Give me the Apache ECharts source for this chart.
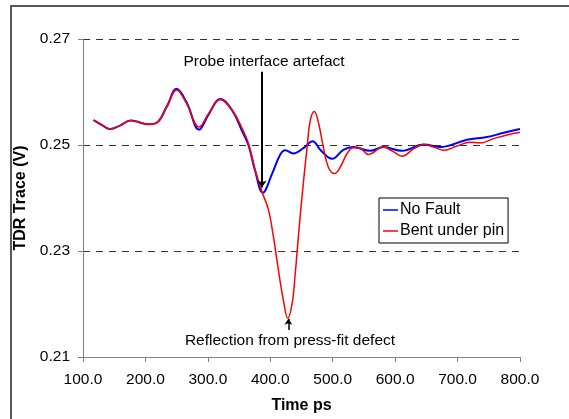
<!DOCTYPE html>
<html>
<head>
<meta charset="utf-8">
<script src="https://cdn.jsdelivr.net/npm/echarts@6/dist/echarts.min.js"></script>
<style>html,body{margin:0;padding:0;background:#fff}#c{width:569px;height:419px}</style>
</head>
<body>
<div id="c"></div>
<script>
// ---- data (time in ps, TDR trace in V) ----
var noFaultTime = [117,130,143,160,176,190,203,218,234,250,266,286,301,320,339,355,365,376,388,403,416,424,437,453,468,480,499,517,533,560,581,611,646,672,715,747,774,800];
var noFaultV    = [0.2547,0.2538,0.2530,0.2537,0.2546,0.2543,0.2539,0.2542,0.2572,0.2606,0.2580,0.2529,0.2557,0.2587,0.2565,0.2526,0.2500,0.2450,0.2410,0.2446,0.2482,0.2490,0.2484,0.2494,0.2507,0.2491,0.2474,0.2491,0.2496,0.2489,0.2496,0.2489,0.2501,0.2496,0.2510,0.2515,0.2523,0.2530];
var bentTime = [117,130,143,160,176,190,203,218,234,250,266,286,301,320,339,355,365,376,387,397,405,413,421,428,435,440,445,451,459,464,470.5,477,485,493,503,512,523,533,544,557,581,595,611,630,646,662,678,699,720,736,758,779,800];
var bentV    = [0.2547,0.2538,0.2530,0.2537,0.2546,0.2543,0.2539,0.2542,0.2571,0.2604,0.2578,0.2534,0.2559,0.2586,0.2566,0.2531,0.2503,0.2452,0.2411,0.2378,0.2327,0.2264,0.2207,0.2173,0.2201,0.2258,0.2327,0.2405,0.2496,0.2546,0.2563,0.2543,0.2496,0.2458,0.2446,0.2458,0.2484,0.2495,0.2494,0.2482,0.2496,0.2489,0.2479,0.2493,0.2501,0.2496,0.2490,0.2498,0.2505,0.2504,0.2512,0.2519,0.2524];
var seriesNames = ['No Fault', 'Bent under pin'];
var yTicks = [0.21, 0.23, 0.25, 0.27];
var xMin = 100, xMax = 800, xStep = 100;
// annotation arrows [time, from V, to V]
var probeArrow = [386.7, 0.2638, 0.2420];
var defectArrow = [429, 0.2151, 0.2172];
var probeText = 'Probe interface artefact';
var defectText = 'Reflection from press-fit defect';

function pairs(t, v) { return t.map(function (x, i) { return [x, v[i]]; }); }

var FONT = '"Liberation Sans", Arial, sans-serif';
var FS = 15.5;
var chart = echarts.init(document.getElementById('c'), null, {renderer: 'canvas'});
chart.setOption({
  animation: false,
  backgroundColor: '#fff',
  textStyle: {fontFamily: FONT},
  grid: {left: 83, right: 49, top: 39, bottom: 62, containLabel: false},
  legend: {
    data: seriesNames,
    orient: 'vertical',
    left: 379, top: 198,
    padding: [4, 4, 4, 4],
    itemGap: 5,
    itemWidth: 15, itemHeight: 1.5,
    icon: 'rect',
    backgroundColor: '#fff',
    borderColor: '#000', borderWidth: 1, borderRadius: 0,
    textStyle: {fontSize: 16, color: '#000', fontFamily: FONT, padding: [0, 0, 0, -3]}
  },
  xAxis: {
    type: 'value', min: xMin, max: xMax, interval: xStep,
    name: 'Time ps', nameLocation: 'middle', nameGap: 41,
    nameTextStyle: {fontSize: 16, fontWeight: 'bold', color: '#000', fontFamily: FONT},
    axisLine: {lineStyle: {color: '#808080', width: 1}},
    axisTick: {show: true, inside: false, length: 5, lineStyle: {color: '#808080'}},
    axisLabel: {fontSize: FS, color: '#000', margin: 15, fontFamily: FONT,
      formatter: function (v) { return v.toFixed(1); }},
    splitLine: {show: false}
  },
  yAxis: {
    type: 'value', min: yTicks[0], max: yTicks[yTicks.length - 1],
    name: 'TDR Trace (V)', nameLocation: 'middle', nameGap: 53,
    nameTextStyle: {fontSize: 16, fontWeight: 'bold', color: '#000', fontFamily: FONT},
    axisLine: {show: true, lineStyle: {color: '#808080', width: 1}},
    axisTick: {show: true, inside: false, length: 5, lineStyle: {color: '#808080'}, customValues: yTicks},
    axisLabel: {fontSize: FS, color: '#000', margin: 13, fontFamily: FONT, customValues: yTicks,
      formatter: function (v) { return v.toFixed(2); }},
    splitLine: {show: true, lineStyle: {color: '#333', width: 1, type: [7, 6]}}
  },
  series: [
    {
      name: seriesNames[0], type: 'line', data: pairs(noFaultTime, noFaultV),
      smooth: 0.4, symbol: 'none', color: '#0000ff',
      lineStyle: {color: '#0000ff', width: 2},
      markLine: {
        silent: true, animation: false,
        symbol: ['none', 'arrow'], symbolSize: 7,
        label: {show: false},
        lineStyle: {color: '#000', width: 2, type: 'solid'},
        data: [
          [{coord: [probeArrow[0], probeArrow[1]]}, {coord: [probeArrow[0], probeArrow[2]]}]
        ]
      }
    },
    {
      name: seriesNames[1], type: 'line', data: pairs(bentTime, bentV),
      smooth: 0.4, symbol: 'none', color: '#ff0000',
      lineStyle: {color: '#ff0000', width: 1.5},
      markLine: {
        silent: true, animation: false,
        symbol: ['none', 'arrow'], symbolSize: 6,
        label: {show: false},
        lineStyle: {color: '#000', width: 1.5, type: 'solid'},
        data: [
          [{coord: [defectArrow[0], defectArrow[1]]}, {coord: [defectArrow[0], defectArrow[2]]}]
        ]
      }
    }
  ],
  graphic: [
    {type: 'rect', silent: true, z: -1, shape: {x: 11, y: 6, width: 700, height: 600},
      style: {fill: null, stroke: '#222', lineWidth: 1.5}},
    {type: 'text', x: 264, y: 62, silent: true,
      style: {text: probeText, font: FS + 'px ' + FONT, fill: '#000', textAlign: 'center', textVerticalAlign: 'middle'}},
    {type: 'text', x: 290, y: 341, silent: true,
      style: {text: defectText, font: FS + 'px ' + FONT, fill: '#000', textAlign: 'center', textVerticalAlign: 'middle'}}
  ]
});
</script>
</body>
</html>
